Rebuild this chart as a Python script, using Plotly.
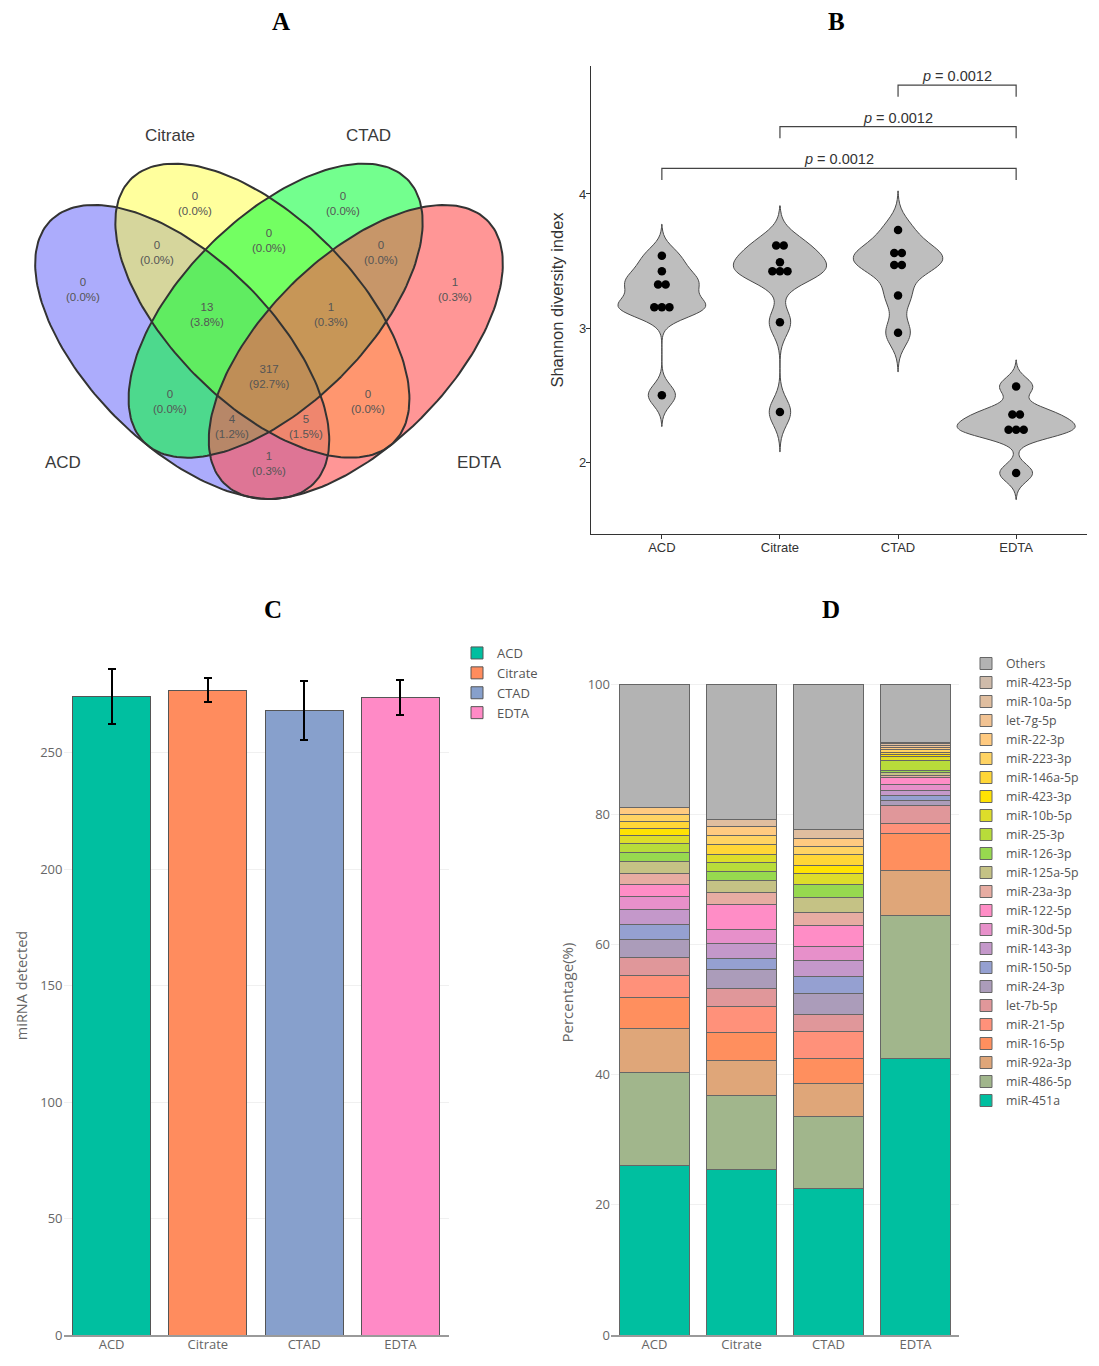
import numpy as np
import plotly.graph_objects as go

W, H = 1099, 1366

# ---------------- DATA ----------------
# Panel A: Venn (ggvenn-style 4 sets)
venn_sets = ["ACD", "Citrate", "CTAD", "EDTA"]
venn_regions = ["A", "B", "C", "D", "AB", "BC", "CD", "AC", "BD", "AD",
                "ABC", "BCD", "ACD", "ABD", "ABCD"]
venn_counts = [0, 0, 0, 1, 0, 0, 0, 0, 0, 1, 13, 1, 4, 5, 317]

# Panel B: Shannon diversity index
shannon_groups = ["ACD", "Citrate", "CTAD", "EDTA"]
shannon_acd = [3.540, 3.424, 3.324, 3.324, 3.155, 3.155, 3.155, 2.499]
shannon_citrate = [3.615, 3.615, 3.491, 3.424, 3.424, 3.424, 3.043, 2.373]
shannon_ctad = [3.732, 3.560, 3.560, 3.471, 3.471, 3.242, 2.964]
shannon_edta = [2.564, 2.355, 2.355, 2.241, 2.241, 2.241, 1.918]
p_labels = ["0.0012", "0.0012", "0.0012"]
p_pairs = [("ACD", "EDTA"), ("Citrate", "EDTA"), ("CTAD", "EDTA")]

# Panel C: miRNA detected
detect_groups = ["ACD", "Citrate", "CTAD", "EDTA"]
detect_mean = [274.0, 276.8, 268.0, 273.5]
detect_sd = [11.8, 5.1, 12.6, 7.5]

# Panel D: composition (bottom -> top)
mirna_names = ["miR-451a", "miR-486-5p", "miR-92a-3p", "miR-16-5p", "miR-21-5p",
               "let-7b-5p", "miR-24-3p", "miR-150-5p", "miR-143-3p", "miR-30d-5p",
               "miR-122-5p", "miR-23a-3p", "miR-125a-5p", "miR-126-3p", "miR-25-3p",
               "miR-10b-5p", "miR-423-3p", "miR-146a-5p", "miR-223-3p", "miR-22-3p",
               "let-7g-5p", "miR-10a-5p", "miR-423-5p", "Others"]
pct_acd = [26.07, 14.24, 6.77, 4.82, 3.28, 2.87, 2.67, 2.36, 2.36, 1.94, 1.85, 1.74,
           1.74, 1.43, 1.33, 1.23, 1.13, 1.13, 1.02, 1.02, 0, 0, 0, 19.00]
pct_citrate = [25.50, 11.27, 5.38, 4.26, 4.05, 2.72, 2.92, 1.69, 2.31, 2.16, 3.84, 1.95,
               1.74, 1.43, 1.33, 1.34, 0, 1.43, 1.43, 1.44, 0, 1.02, 0, 20.79]
pct_ctad = [22.50, 11.04, 5.18, 3.74, 4.16, 2.61, 3.18, 2.67, 2.46, 2.15, 3.23, 2.06,
            2.30, 1.90, 0, 1.69, 1.28, 1.63, 1.23, 1.33, 0, 1.34, 0, 22.32]
pct_edta = [42.56, 21.90, 6.92, 5.65, 1.53, 2.79, 0.85, 0.70, 0.80, 0.90, 1.00, 0.40,
            0.40, 0.35, 1.52, 0.62, 0.31, 0.30, 0.40, 0.40, 0.30, 0.25, 0.20, 8.95]
sample_groups = ["ACD", "Citrate", "CTAD", "EDTA"]

# ---------------- STYLE ----------------
venn_fill = ["rgba(90,90,250,0.5)", "rgba(255,255,60,0.5)",
             "rgba(0,255,50,0.55)", "rgba(255,80,80,0.6)"]
venn_ellipses = [(-0.7, -0.5, 0.75, 1.5, np.pi / 4),
                 (-0.72 + 2 / 3, -1 / 6, 0.75, 1.5, np.pi / 4),
                 (0.72 - 2 / 3, -1 / 6, 0.75, 1.5, -np.pi / 4),
                 (0.7, -0.5, 0.75, 1.5, -np.pi / 4)]
venn_text_pos = {"A": (-1.5, 0), "B": (-0.6, 0.7), "C": (0.6, 0.7), "D": (1.5, 0),
                 "AB": (-0.9, 0.3), "BC": (0, 0.4), "CD": (0.9, 0.3),
                 "AC": (-0.8, -0.9), "BD": (0.8, -0.9), "AD": (0, -1.4),
                 "ABC": (-0.5, -0.2), "BCD": (0.5, -0.2), "ACD": (-0.3, -1.1),
                 "ABD": (0.3, -1.1), "ABCD": (0, -0.7)}
venn_label_pos = [(-1.5, -1.3, "right", "top", 0), (-0.8, 1.2, "center", "bottom", -6),
                  (0.8, 1.2, "center", "bottom", -6), (1.5, -1.3, "left", "top", 0)]

violin_bw = [0.078, 0.099, 0.097, 0.066]
violin_width = [0.74, 0.785, 0.755, 1.0]
bracket_levels = [4.191, 4.502, 4.812]
bracket_drop = 0.087
dot_step = 0.064

group_colors = ["#00BFA0", "#FF8C5E", "#87A0CC", "#FF8AC6"]
mirna_colors = ["#00BFA0", "#A1B68C", "#DFA679", "#FF8F5E", "#FF917A", "#E0979A",
                "#AB9CBA", "#95A0D1", "#C498CA", "#E790CA", "#FF8DC6", "#E7ACA2",
                "#C5C285", "#97D94F", "#B8DC3A", "#DDDD2A", "#FFE203", "#FFD637",
                "#FFD363", "#FFCA80", "#F2C393", "#E0BE9F", "#CFBBAA", "#B3B3B3"]

SANS = "Liberation Sans, Arial, sans-serif"
OPEN = "Open Sans, sans-serif"

def px_x(p):
    return p / W

def px_y(p):
    return 1 - p / H

fig = go.Figure()

# ---------------- PANEL A ----------------
t = np.linspace(0, 2 * np.pi, 200)
ell_xy = []
for (x0, y0, a, b, th) in venn_ellipses:
    xr, yr = a * np.cos(t), b * np.sin(t)
    ex = x0 + xr * np.cos(th) - yr * np.sin(th)
    ey = y0 + xr * np.sin(th) + yr * np.cos(th)
    ell_xy.append((ex, ey))
for (ex, ey), fc in zip(ell_xy, venn_fill):
    fig.add_trace(go.Scatter(x=ex, y=ey, mode="lines", fill="toself", fillcolor=fc,
                             line=dict(width=0), hoverinfo="skip", showlegend=False,
                             xaxis="x", yaxis="y"))
for (ex, ey) in ell_xy:
    fig.add_trace(go.Scatter(x=ex, y=ey, mode="lines", line=dict(color="#333333", width=2),
                             hoverinfo="skip", showlegend=False, xaxis="x", yaxis="y"))

total = sum(venn_counts)
annotations = []
for key, cnt in zip(venn_regions, venn_counts):
    x, y = venn_text_pos[key]
    annotations.append(dict(x=x, y=y, xref="x", yref="y", showarrow=False,
                            text=f"{cnt}<br>({100 * cnt / total:.1f}%)",
                            font=dict(family=SANS, size=11.5, color="#555555")))
for name, (x, y, xa, ya, ys) in zip(venn_sets, venn_label_pos):
    annotations.append(dict(x=x, y=y, xref="x", yref="y", showarrow=False, text=name,
                            xanchor=xa, yanchor=ya, yshift=ys,
                            font=dict(family=SANS, size=17, color="#3a3a3a")))

# ---------------- PANEL B ----------------
shannon_data = [shannon_acd, shannon_citrate, shannon_ctad, shannon_edta]
for i, vals in enumerate(shannon_data):
    v = np.asarray(vals)
    bw = violin_bw[i]
    fig.add_trace(go.Violin(x0=i, y=v, name=shannon_groups[i], bandwidth=bw,
                            spanmode="manual", span=[v.min() - 3 * bw, v.max() + 3 * bw],
                            width=violin_width[i], scalemode="width", points=False,
                            fillcolor="#BEBEBE", line=dict(color="#4a4a4a", width=1),
                            box_visible=False, meanline_visible=False, opacity=1,
                            hoverinfo="skip", showlegend=False, xaxis="x2", yaxis="y2"))
dx, dy = [], []
for i, vals in enumerate(shannon_data):
    uniq = sorted(set(vals))
    for u in uniq:
        k = vals.count(u)
        offs = (np.arange(k) - (k - 1) / 2) * dot_step
        for o in offs:
            dx.append(i + o)
            dy.append(u)
fig.add_trace(go.Scatter(x=dx, y=dy, mode="markers",
                         marker=dict(color="black", size=8.5),
                         hoverinfo="skip", showlegend=False, xaxis="x2", yaxis="y2"))

shapes = []
for (g1, g2), lvl, lab in zip(p_pairs, bracket_levels, p_labels):
    i1, i2 = shannon_groups.index(g1), shannon_groups.index(g2)
    shapes.append(dict(type="path", xref="x2", yref="y2",
                       path=f"M {i1},{lvl - bracket_drop} L {i1},{lvl} L {i2},{lvl} L {i2},{lvl - bracket_drop}",
                       line=dict(color="#444444", width=1.2)))
    annotations.append(dict(x=(i1 + i2) / 2, y=lvl, xref="x2", yref="y2", showarrow=False,
                            yanchor="bottom", text=f"<i>p</i> = {lab}", yshift=-1,
                            font=dict(family=SANS, size=14.5, color="#333333")))

# ---------------- PANEL C ----------------
for g, m, s, c in zip(detect_groups, detect_mean, detect_sd, group_colors):
    fig.add_trace(go.Bar(x=[g], y=[m], name=g, width=0.81,
                         marker=dict(color=c, line=dict(color="#555555", width=1)),
                         error_y=dict(type="data", array=[s], color="black",
                                      thickness=2, width=4),
                         legend="legend", xaxis="x3", yaxis="y3", hoverinfo="skip"))

# ---------------- PANEL D ----------------
pct_all = [pct_acd, pct_citrate, pct_ctad, pct_edta]
for j, (nm, col) in enumerate(zip(mirna_names, mirna_colors)):
    fig.add_trace(go.Bar(x=sample_groups, y=[p[j] for p in pct_all], name=nm, width=0.81,
                         marker=dict(color=col, line=dict(color="#666666", width=1)),
                         legend="legend2", xaxis="x4", yaxis="y4", hoverinfo="skip"))

# ---------------- TITLES ----------------
for lab, (x, y) in zip(["A", "B", "C", "D"], [(281, 22), (836, 22), (273, 610), (831, 610)]):
    annotations.append(dict(x=px_x(x), y=px_y(y), xref="paper", yref="paper", showarrow=False,
                            text=f"<b>{lab}</b>", xanchor="center", yanchor="middle",
                            font=dict(family="Liberation Serif, Times New Roman, serif",
                                      size=25, color="black")))

fig.update_layout(
    width=W, height=H, autosize=False,
    margin=dict(l=0, r=0, t=0, b=0, autoexpand=False),
    paper_bgcolor="white", plot_bgcolor="white",
    barmode="stack", violinmode="overlay",
    shapes=shapes, annotations=annotations,
    xaxis=dict(domain=[px_x(8.6), px_x(529.4)], range=[-2.1, 2.1], visible=False,
               anchor="y", fixedrange=True, automargin=False),
    yaxis=dict(domain=[px_y(525.6), px_y(91.6)], range=[-1.9, 1.6], visible=False,
               anchor="x", fixedrange=True, automargin=False),
    xaxis2=dict(domain=[px_x(591), px_x(1087)], range=[-0.6, 3.6], anchor="y2",
                tickvals=[0, 1, 2, 3], ticktext=shannon_groups, showline=True,
                linecolor="#333333", linewidth=1.2, ticks="outside", ticklen=4,
                tickcolor="#333333", showgrid=False, zeroline=False, automargin=False,
                ticklabelstandoff=-3,
                tickfont=dict(family=SANS, size=13, color="#333333")),
    yaxis2=dict(domain=[px_y(534), px_y(66)], range=[1.463, 4.955], anchor="x2",
                tickvals=[2, 3, 4], showline=True, linecolor="#333333", linewidth=1.2,
                ticks="outside", ticklen=4, tickcolor="#333333", showgrid=False,
                zeroline=False, automargin=False, ticklabelstandoff=-3,
                tickfont=dict(family=SANS, size=13, color="#333333"),
                title=dict(text="Shannon diversity index", standoff=11,
                           font=dict(family=SANS, size=16.5, color="#333333"))),
    xaxis3=dict(domain=[px_x(63.5), px_x(448.5)], type="category", anchor="y3",
                categoryorder="array", categoryarray=detect_groups, automargin=False,
                showline=True, linecolor="#9a9a9a", linewidth=1.5, showgrid=False,
                ticklabelstandoff=-3,
                tickfont=dict(family=OPEN, size=13, color="#666666")),
    yaxis3=dict(domain=[px_y(1335), px_y(636)], range=[0, 300], anchor="x3",
                tickvals=[0, 50, 100, 150, 200, 250], showgrid=True, gridcolor="#F0F0F0",
                zeroline=False, showline=False, automargin=False,
                tickfont=dict(family=OPEN, size=13, color="#666666"),
                title=dict(text="miRNA detected", standoff=9,
                           font=dict(family=OPEN, size=14.5, color="#666666"))),
    xaxis4=dict(domain=[px_x(611), px_x(959)], type="category", anchor="y4",
                categoryorder="array", categoryarray=sample_groups, automargin=False,
                showline=True, linecolor="#9a9a9a", linewidth=1.5, showgrid=False,
                ticklabelstandoff=-3,
                tickfont=dict(family=OPEN, size=13, color="#666666")),
    yaxis4=dict(domain=[px_y(1335), px_y(650)], range=[0, 105.26], anchor="x4",
                tickvals=[0, 20, 40, 60, 80, 100], showgrid=True, gridcolor="#F0F0F0",
                zeroline=False, showline=False, automargin=False,
                tickfont=dict(family=OPEN, size=13, color="#666666"),
                title=dict(text="Percentage(%)", standoff=10,
                           font=dict(family=OPEN, size=15, color="#666666"))),
    legend=dict(x=px_x(457), y=px_y(638), xanchor="left", yanchor="top",
                traceorder="normal", bgcolor="rgba(0,0,0,0)",
                font=dict(family=OPEN, size=13, color="#555555")),
    legend2=dict(x=px_x(966), y=px_y(649), xanchor="left", yanchor="top",
                 traceorder="reversed", bgcolor="rgba(0,0,0,0)", tracegroupgap=0,
                 font=dict(family=OPEN, size=12.3, color="#555555")),
)

fig.write_html("out.html", config={"displayModeBar": False},
               post_script="document.body.style.margin='0px';document.body.style.overflow='hidden';")
